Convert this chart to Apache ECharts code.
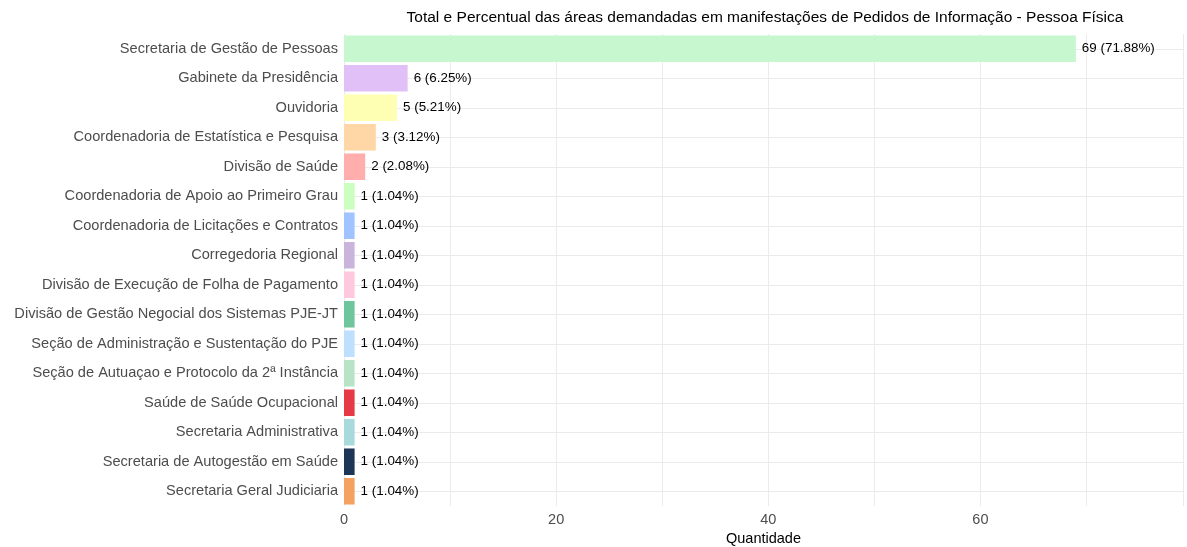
<!DOCTYPE html>
<html><head><meta charset="utf-8">
<script src="https://cdn.jsdelivr.net/npm/echarts@6/dist/echarts.min.js"></script>
<style>html,body{margin:0;padding:0;background:#fff}#c{width:1187px;height:547px}</style>
</head><body><div id="c"></div>
<script>
const categories = [
  "Secretaria de Gestão de Pessoas",
  "Gabinete da Presidência",
  "Ouvidoria",
  "Coordenadoria de Estatística e Pesquisa",
  "Divisão de Saúde",
  "Coordenadoria de Apoio ao Primeiro Grau",
  "Coordenadoria de Licitações e Contratos",
  "Corregedoria Regional",
  "Divisão de Execução de Folha de Pagamento",
  "Divisão de Gestão Negocial dos Sistemas PJE-JT",
  "Seção de Administração e Sustentação do PJE",
  "Seção de Autuaçao e Protocolo da 2ª Instância",
  "Saúde de Saúde Ocupacional",
  "Secretaria Administrativa",
  "Secretaria de Autogestão em Saúde",
  "Secretaria Geral Judiciaria"
];
const values = [69, 6, 5, 3, 2, 1, 1, 1, 1, 1, 1, 1, 1, 1, 1, 1];
const percents = ["71.88%", "6.25%", "5.21%", "3.12%", "2.08%", "1.04%", "1.04%", "1.04%", "1.04%", "1.04%", "1.04%", "1.04%", "1.04%", "1.04%", "1.04%", "1.04%"];
const colors = ["#c6f7cf", "#e1c0f7", "#ffffb3", "#ffd6a5", "#ffadad", "#caffbf", "#a0c4ff", "#cbb4db", "#ffc8dd", "#6fc69c", "#bde0fe", "#b7e4c7", "#e63946", "#a8dadc", "#1d3557", "#f4a261"];
const xTicks = [0, 20, 40, 60];

const font = "Liberation Sans, Arial, sans-serif";
const chart = echarts.init(document.getElementById('c'));
chart.setOption({
  animation: false,
  backgroundColor: '#ffffff',
  title: {
    text: "Total e Percentual das áreas demandadas em manifestações de Pedidos de Informação - Pessoa Física",
    left: 760, top: 5, textAlign: 'center',
    textStyle: {fontFamily: font, fontSize: 15.5, fontWeight: 'normal', color: '#000'}
  },
  grid: {left: 344, right: 4, top: 34, bottom: 41, containLabel: false, outerBoundsMode: 'none'},
  xAxis: {
    type: 'value', min: 0, max: 79.1, interval: 10,
    name: 'Quantidade', nameLocation: 'middle', nameGap: 19,
    nameTextStyle: {fontFamily: font, fontSize: 14.5, color: '#000'},
    axisLine: {show: false}, axisTick: {show: false},
    axisLabel: {
      fontFamily: font, fontSize: 14.5, color: '#4d4d4d', margin: 6,
      showMaxLabel: false,
      formatter: v => xTicks.includes(v) ? String(v) : ''
    },
    splitLine: {show: true, lineStyle: {color: '#ebebeb', width: 1}}
  },
  yAxis: {
    type: 'category', data: categories, inverse: true,
    axisLine: {show: false}, axisTick: {show: false},
    axisLabel: {fontFamily: font, fontSize: 14.6, color: '#4d4d4d', margin: 6},
    splitLine: {show: true, alignWithLabel: true, lineStyle: {color: '#ebebeb', width: 1}}
  },
  series: [{
    type: 'bar',
    barCategoryGap: '10%',
    data: values.map((v, i) => ({value: v, itemStyle: {color: colors[i]}})),
    label: {
      show: true, position: 'right', distance: 6,
      fontFamily: font, fontSize: 13.4, color: '#000',
      formatter: p => values[p.dataIndex] + ' (' + percents[p.dataIndex] + ')'
    }
  }]
});
</script></body></html>
